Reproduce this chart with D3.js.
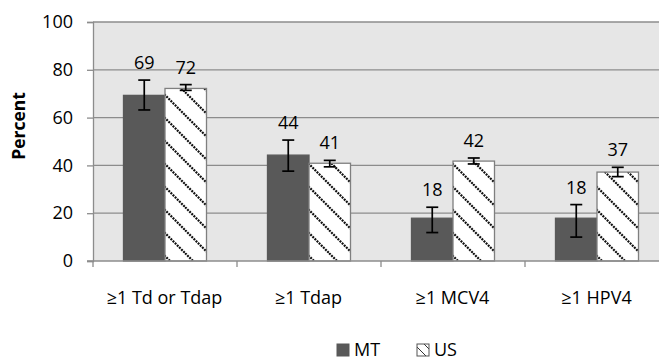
<!DOCTYPE html>
<html><head><meta charset="utf-8">
<script src="https://cdn.jsdelivr.net/npm/d3@7"></script>
<style>body{margin:0;background:#fff}svg{display:block;font-family:"Open Sans",sans-serif}</style>
</head><body>
<svg id="c" width="659" height="360"></svg>
<script>
const categories = ["≥1 Td or Tdap", "≥1 Tdap", "≥1 MCV4", "≥1 HPV4"];
const seriesNames = ["MT", "US"];
const mtValues = [69.3, 44.3, 17.9, 17.9];
const mtLow = [63.2, 37.6, 11.9, 10.0];
const mtHigh = [75.7, 50.6, 22.5, 23.6];
const usValues = [72.2, 40.9, 41.8, 37.2];
const usLow = [71.4, 39.4, 40.6, 35.3];
const usHigh = [73.8, 42.1, 43.1, 39.2];
const labels = [["69","44","18","18"],["72","41","42","37"]];
const yTicks = [0, 20, 40, 60, 80, 100];

(function(){
const series = [
  {name: seriesNames[0], values: mtValues, low: mtLow, high: mtHigh, labels: labels[0]},
  {name: seriesNames[1], values: usValues, low: usLow, high: usHigh, labels: labels[1]}
];

const svg = d3.select("#c");
const pLeft = 93, pTop = 22, pBottom = 261, pRight = 669;
const fs = 18;

const defs = svg.append("defs");
const pat = defs.append("pattern").attr("id","hatch").attr("patternUnits","userSpaceOnUse")
  .attr("width",23).attr("height",23);
pat.append("rect").attr("width",23).attr("height",23).attr("fill","#fff");
pat.append("path").attr("d","M-2,-2L25,25M-25,-2L2,25M21,-2L48,25")
  .attr("stroke","#111").attr("stroke-width",2.2).attr("stroke-dasharray","2,1");
const pat2 = defs.append("pattern").attr("id","hatchS").attr("patternUnits","userSpaceOnUse")
  .attr("width",10).attr("height",10);
pat2.append("rect").attr("width",10).attr("height",10).attr("fill","#fff");
pat2.append("path").attr("d","M-1,-1L11,11").attr("stroke","#333").attr("stroke-width",1);

const x = d3.scaleBand().domain(categories).range([pLeft, pRight]).padding(0);
const xs = d3.scaleBand().domain(seriesNames).range([0, x.bandwidth()]).paddingInner(0).paddingOuter(0.735);
const y = d3.scaleLinear().domain([0, 100]).range([pBottom, pTop]);

svg.append("rect").attr("x", pLeft).attr("y", y(100)).attr("width", pRight - pLeft)
  .attr("height", y(0) - y(100)).attr("fill", "#e6e6e6");

svg.append("g").selectAll("line").data(yTicks.filter(d => d > 0)).join("line")
  .attr("x1", pLeft).attr("x2", pRight).attr("y1", d => y(d)).attr("y2", d => y(d))
  .attr("stroke", "#8c8c8c").attr("stroke-width", 1.3);

const yAxis = svg.append("g").attr("transform", `translate(${pLeft},0)`)
  .call(d3.axisLeft(y).tickValues(yTicks).tickSize(6).tickPadding(14));
yAxis.select(".domain").attr("stroke", "#8c8c8c").attr("stroke-width", 1.3);
yAxis.selectAll(".tick line").attr("stroke", "#8c8c8c").attr("stroke-width", 1.3);
yAxis.selectAll(".tick text").attr("font-size", fs).attr("fill", "#000")
  .attr("font-family", "Open Sans, sans-serif");

const groups = svg.append("g").selectAll("g").data(categories).join("g")
  .attr("transform", c => `translate(${x(c)},0)`);
series.forEach((s, si) => {
  groups.append("rect")
    .attr("x", xs(s.name)).attr("width", xs.bandwidth())
    .attr("y", (c, i) => y(s.values[i])).attr("height", (c, i) => y(0) - y(s.values[i]))
    .attr("fill", si === 0 ? "#595959" : "url(#hatch)")
    .attr("stroke", si === 0 ? "#595959" : "#7f7f7f").attr("stroke-width", 1.3);
});

const xAxis = svg.append("g").attr("transform", `translate(0,${pBottom})`);
xAxis.append("line").attr("x1", pLeft - 6).attr("x2", pRight).attr("y1", 0).attr("y2", 0)
  .attr("stroke", "#8c8c8c").attr("stroke-width", 1.3);
xAxis.selectAll("line.t").data(categories).join("line").attr("class", "t")
  .attr("x1", c => x(c)).attr("x2", c => x(c)).attr("y1", 0).attr("y2", 6)
  .attr("stroke", "#8c8c8c").attr("stroke-width", 1.3);
xAxis.selectAll("text").data(categories).join("text")
  .attr("x", c => x(c) + x.bandwidth() / 2 - 0.5).attr("y", 43)
  .attr("text-anchor", "middle").attr("font-size", fs).attr("fill", "#000").text(c => c);

series.forEach((s) => {
  groups.each(function(c, i) {
    const g = d3.select(this);
    const xc = xs(s.name) + xs.bandwidth() / 2;
    g.append("line").attr("x1", xc).attr("x2", xc).attr("y1", y(s.low[i])).attr("y2", y(s.high[i]))
      .attr("stroke", "#000").attr("stroke-width", 1.7);
    [s.low[i], s.high[i]].forEach(v => g.append("line").attr("x1", xc - 6).attr("x2", xc + 6)
      .attr("y1", y(v)).attr("y2", y(v)).attr("stroke", "#000").attr("stroke-width", 1.7));
    g.append("text").attr("x", xc).attr("y", y(s.high[i]) - 11).attr("text-anchor", "middle")
      .attr("font-size", fs).attr("fill", "#000").text(s.labels[i]);
  });
});

svg.append("text").attr("transform", "translate(25,126) rotate(-90)")
  .attr("text-anchor", "middle").attr("font-size", 17.5).attr("font-weight", "bold").text("Percent");

const legend = svg.append("g");
const legX = [337, 417];
series.forEach((s, si) => {
  legend.append("rect").attr("x", legX[si]).attr("y", 344).attr("width", 12).attr("height", 12)
    .attr("fill", si === 0 ? "#595959" : "url(#hatchS)").attr("stroke", si === 0 ? "#595959" : "#555").attr("stroke-width", 1);
  legend.append("text").attr("x", legX[si] + 17).attr("y", 356).attr("font-size", fs).text(s.name);
});
})();
</script>
</body></html>
